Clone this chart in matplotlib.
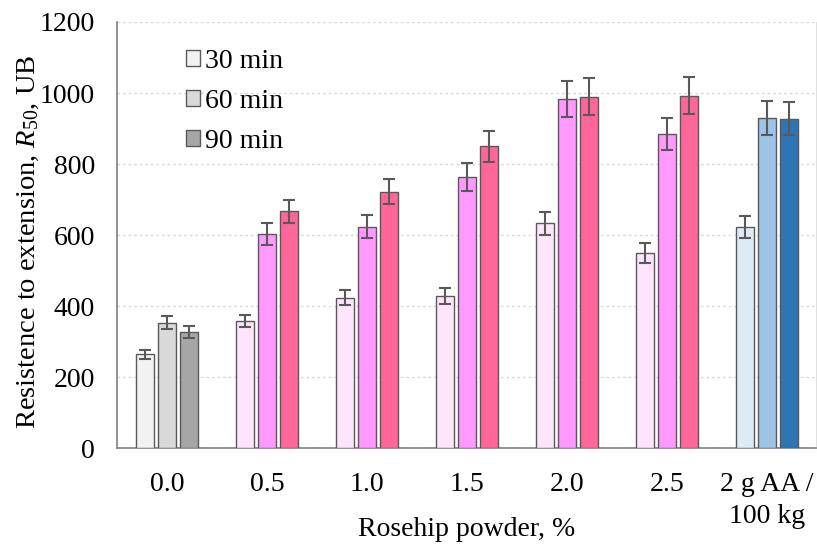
import numpy as np
import matplotlib.pyplot as plt
from matplotlib.patches import Patch

plt.rcParams['font.family'] = 'Liberation Serif'
plt.rcParams['mathtext.fontset'] = 'custom'
plt.rcParams['mathtext.rm'] = 'Liberation Serif'
plt.rcParams['mathtext.it'] = 'Liberation Serif:italic'

groups = ['0.0', '0.5', '1.0', '1.5', '2.0', '2.5', '2 g AA /\n100 kg']
times = ['30 min', '60 min', '90 min']

# mean resistance per group, one list per mixing time
r30 = [265, 359, 424, 428, 633, 550, 623]
r60 = [354, 602, 624, 764, 983, 885, 930]
r90 = [328, 667, 722, 850, 990, 993, 928]

# standard deviations
e30 = [13, 17, 22, 22, 33, 28, 32]
e60 = [18, 31, 33, 40, 51, 45, 48]
e90 = [17, 33, 35, 44, 52, 51, 47]

gray = ['#F2F2F2', '#D9D9D9', '#A6A6A6']
pink = ['#FFE5FB', '#FF99FF', '#FF6699']
blue = ['#DDEBF7', '#9DC3E6', '#2E75B6']


def normalise_palette(i):
    if i == 0:
        return gray
    if i == len(groups) - 1:
        return blue
    return pink


fig = plt.figure(figsize=(8.17, 5.44), dpi=100)
ax = fig.add_axes([0.1432, 0.176, 0.8556, 0.7836])

x = np.arange(len(groups))
width = 0.175
step = 0.22
series = [(r30, e30), (r60, e60), (r90, e90)]

for k, (vals, errs) in enumerate(series):
    cols = [normalise_palette(i)[k] for i in range(len(groups))]
    ax.bar(x + (k - 1) * step, vals, width, color=cols, edgecolor='#595959',
           linewidth=1, zorder=3)
    ax.errorbar(x + (k - 1) * step, vals, yerr=errs, fmt='none',
                ecolor='#595959', elinewidth=1.5, capsize=4, capthick=1.5,
                zorder=4)

fs = 20
ax.set_xlim(-0.5, 6.49)
ax.set_ylim(0, 1200)
ax.set_yticks(range(0, 1201, 200))
ax.set_xticks(x)
ax.set_xticklabels(groups, fontsize=fs, linespacing=1.38)
ax.tick_params(axis='both', length=0, labelsize=fs)
ax.tick_params(axis='x', pad=17)
ax.tick_params(axis='y', pad=16)
ax.yaxis.grid(True, linestyle=(0, (2, 2)), color='#D9D9D9', linewidth=1)
ax.set_axisbelow(True)

for side in ['left', 'bottom']:
    ax.spines[side].set_color('#808080')
    ax.spines[side].set_linewidth(1.2)
ax.spines['top'].set_visible(False)
ax.spines['right'].set_color('#E0E0E0')

ax.set_ylabel('Resistence to extension, $R_{50}$, UB', fontsize=20.5)
ax.yaxis.set_label_coords(-0.109, 0.485)
ax.set_xlabel('Rosehip powder, %', fontsize=fs)
ax.xaxis.set_label_coords(0.5, -0.162)

handles = [Patch(facecolor=c, edgecolor='#595959', linewidth=1) for c in gray]
ax.legend(handles, times, loc='upper left', bbox_to_anchor=(0.0626, 0.995),
          frameon=False, fontsize=fs, handlelength=0.5, handleheight=0.5,
          handletextpad=0.2, labelspacing=0.54)

fig.savefig('out.png', dpi=100)
